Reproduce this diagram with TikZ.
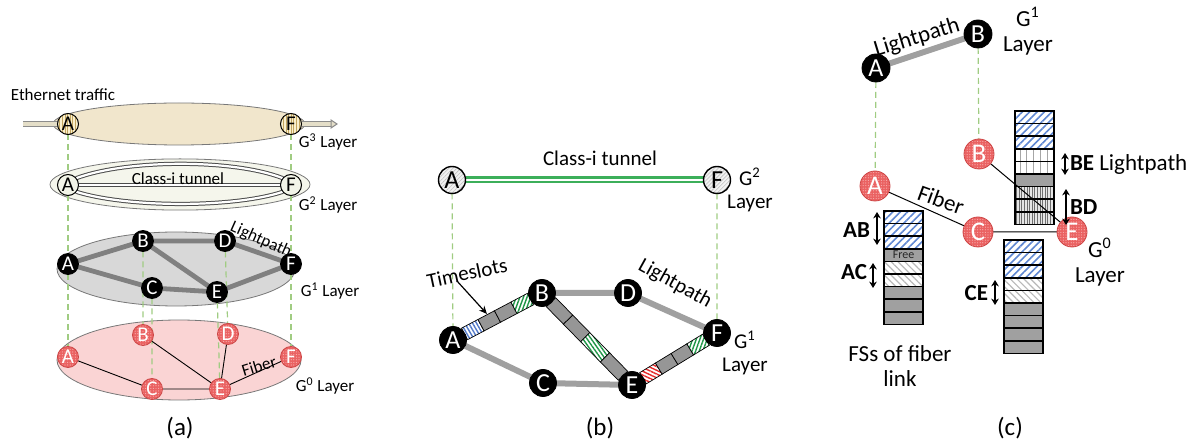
\documentclass[tikz,border=0pt]{standalone}
\usepackage{fontspec}
\setmainfont{Carlito}
\usetikzlibrary{calc,arrows.meta,patterns.meta}

\definecolor{ellG3}{RGB}{241,230,204}
\definecolor{ellG2}{RGB}{245,246,236}
\definecolor{ellG1}{RGB}{216,216,216}
\definecolor{ellG0}{RGB}{250,212,212}
\definecolor{ellline}{RGB}{120,120,120}
\definecolor{dashgreen}{RGB}{160,204,130}
\definecolor{lpgray}{RGB}{128,128,128}
\definecolor{lpgrayb}{RGB}{160,160,160}
\definecolor{rednode}{RGB}{234,98,98}
\definecolor{reddraw}{RGB}{205,70,70}
\definecolor{reddot}{RGB}{248,175,175}
\definecolor{g3fill}{RGB}{250,240,205}
\definecolor{g3stripe}{RGB}{195,165,95}
\definecolor{g2fill}{RGB}{242,244,232}
\definecolor{ethcore}{RGB}{228,222,200}
\definecolor{tunnelgreen}{RGB}{60,175,90}
\definecolor{slotgray}{RGB}{150,150,150}
\definecolor{slotblue}{RGB}{80,120,200}
\definecolor{slotgreen}{RGB}{30,150,70}
\definecolor{slotred}{RGB}{230,40,40}
\definecolor{fsblue}{RGB}{95,135,210}
\definecolor{fshatch}{RGB}{185,185,185}
\definecolor{fsgray}{RGB}{160,160,160}
\definecolor{fsstripe}{RGB}{110,110,110}

\pgfdeclarelayer{back}
\pgfdeclarelayer{mid}
\pgfsetlayers{back,mid,main}

% one timeslot of a lightpath bar between two nodes, from fraction #3 to #4
\newcommand\tslot[5]{%
  \path[#5] ($(#1)!#3!(#2)!3.25pt!90:(#2)$) -- ($(#1)!#4!(#2)!3.25pt!90:(#2)$)
    -- ($(#1)!#4!(#2)!3.25pt!-90:(#2)$) -- ($(#1)!#3!(#2)!3.25pt!-90:(#2)$) -- cycle;}

% a stack of frequency slots: left x, top y, list of cell styles
\newcommand\fscolumn[3]{%
  \foreach \st [count=\i from 0] in {#3}
    {\path[fscell,\st] (#1,{#2+12.6*\i}) rectangle ++(39,12.6);}}

\begin{document}
\begin{tikzpicture}[x=0.5pt,y=-0.5pt,
  every node/.style={inner sep=0pt,outer sep=0pt},
  txa/.style={font=\fontsize{8.5}{10}\selectfont},
  txb/.style={font=\fontsize{10.5}{11.8}\selectfont,align=center},
  txc/.style={font=\fontsize{11.5}{12.5}\selectfont,align=center},
  panel/.style={font=\fontsize{12.5}{15}\selectfont},
  ell/.style={draw=ellline,line width=0.4pt},
  vlink/.style={draw=dashgreen,line width=0.6pt,dash pattern=on 3pt off 2pt},
  nodea/.style={circle,minimum size=10.5pt,font=\fontsize{10.5}{11}\selectfont},
  nodeb/.style={circle,minimum size=13.5pt,font=\fontsize{13}{14}\selectfont},
  nodec/.style={circle,minimum size=14pt,font=\fontsize{13}{14}\selectfont},
  nodecr/.style={circle,minimum size=15pt,font=\fontsize{13.5}{14}\selectfont},
  g3node/.style={nodea,draw=black,line width=0.5pt,preaction={fill=g3fill},
    pattern={Lines[angle=90,distance=1.3pt,line width=0.4pt]},pattern color=g3stripe},
  g2node/.style={nodea,draw=black,line width=0.5pt,fill=g2fill},
  g2b/.style={nodeb,draw=black,line width=0.7pt,preaction={fill=black!5},
    pattern={Lines[angle=45,distance=1.4pt,line width=0.3pt]},pattern color=black!25},
  blk/.style={fill=black,draw=black,text=white},
  rednd/.style={draw=reddraw,line width=0.4pt,text=white,preaction={fill=rednode},
    pattern={Dots[distance=1.3pt,radius=0.3pt]},pattern color=reddot},
  eth/.style={draw=black!45,line width=0.5pt,double=ethcore,double distance=2pt},
  ethhead/.style={draw=black!45,line width=0.5pt,fill=ethcore},
  tunnel/.style={draw=black!70,line width=0.5pt,double=white,double distance=1.1pt},
  tunnelg/.style={draw=tunnelgreen,line width=1.1pt,double=white,double distance=1.3pt},
  lpa/.style={draw=lpgray,line width=2.4pt},
  lpb/.style={draw=lpgrayb,line width=3pt},
  fib/.style={draw=black,line width=0.45pt},
  slot/.style={draw=black,line width=0.35pt},
  sgray/.style={slot,fill=slotgray},
  sblue/.style={slot,preaction={fill=white},
    pattern={Lines[angle=-60,distance=1.7pt,line width=0.7pt]},pattern color=slotblue},
  sgreen/.style={slot,preaction={fill=white},
    pattern={Lines[angle=70,distance=1.7pt,line width=0.7pt]},pattern color=slotgreen},
  sgreenx/.style={slot,preaction={fill=white},
    pattern={Lines[angle=-55,distance=1.7pt,line width=0.7pt]},pattern color=slotgreen},
  sred/.style={slot,preaction={fill=white},
    pattern={Lines[angle=-25,distance=1.7pt,line width=0.7pt]},pattern color=slotred},
  fscell/.style={draw=black,line width=0.8pt},
  fblue/.style={preaction={fill=white},
    pattern={Lines[angle=45,distance=2.6pt,line width=0.8pt]},pattern color=fsblue},
  fhatch/.style={preaction={fill=white},
    pattern={Lines[angle=-45,distance=2.4pt,line width=0.6pt]},pattern color=fshatch},
  fgray/.style={fill=fsgray},
  fwhite/.style={preaction={fill=white},
    pattern={Lines[angle=90,distance=3.4pt,line width=0.35pt]},pattern color=black!35},
  fvert/.style={preaction={fill=black!10},
    pattern={Lines[angle=90,distance=1.3pt,line width=0.45pt]},pattern color=fsstripe},
  darr/.style={draw=black,line width=0.9pt,
    {Stealth[length=3.2pt,width=3.8pt]}-{Stealth[length=3.2pt,width=3.8pt]}},
  ptr/.style={draw=black,line width=0.6pt,-{Stealth[length=4pt,width=3.5pt]}}
]
\useasboundingbox (0,0) rectangle (1195,443);

% ================= (a) four stacked layers =================
\node[g3node] (a3A) at (68,124) {A};
\node[g3node] (a3F) at (291,124) {F};
\node[g2node] (a2A) at (68,185) {A};
\node[g2node] (a2F) at (291,185) {F};
\node[nodea,blk] (a1A) at (68,264) {A};
\node[nodea,blk] (a1B) at (143,241) {B};
\node[nodea,blk] (a1C) at (152,288) {C};
\node[nodea,blk] (a1D) at (225,241) {D};
\node[nodea,blk] (a1E) at (217,292) {E};
\node[nodea,blk] (a1F) at (291,264) {F};
\node[nodea,rednd] (a0A) at (68,357) {A};
\node[nodea,rednd] (a0B) at (143,335) {B};
\node[nodea,rednd] (a0C) at (152,389) {C};
\node[nodea,rednd] (a0D) at (228,334) {D};
\node[nodea,rednd] (a0E) at (220,389) {E};
\node[nodea,rednd] (a0F) at (291,357) {F};

\begin{pgfonlayer}{back}
  \path[ell,fill=ellG3] (179,124) ellipse [x radius=63pt,y radius=10.5pt];
  \path[ell,fill=ellG2] (180,184.5) ellipse [x radius=65pt,y radius=12.8pt];
  \path[ell,fill=ellG1] (176,269) ellipse [x radius=59.5pt,y radius=18.5pt];
  \path[ell,fill=ellG0] (179,360) ellipse [x radius=61pt,y radius=20pt];
\end{pgfonlayer}

\begin{pgfonlayer}{mid}
  \coordinate (ethin) at (23,124);
  \coordinate (ethend) at (331,124);
  \draw[eth] (ethin) -- (a3A.west);
  \draw[eth] (a3F.east) -- (ethend);
  \draw[ethhead] (ethend) ++(0,-4) -- ++(6,4) -- ++(-6,4) -- cycle;
  \draw[tunnel] (a2A.40) .. controls (128,159) and (234,159) .. (a2F.140);
  \draw[tunnel] (a2A) -- (a2F);
  \draw[tunnel] (a2A.-40) .. controls (128,208) and (234,208) .. (a2F.-140);
  \draw[vlink] (a3A) -- (a2A) (a2A) -- (a1A) (a1A) -- (a0A);
  \draw[vlink] (a3F) -- (a2F) (a2F) -- (a1F) (a1F) -- (a0F);
  \draw[vlink] (a1B) -- (a0B) (a1C) -- (a0C) (a1D) -- (a0D) (a1E) -- (a0E);
  \draw[lpa] (a1A) -- (a1B) (a1B) -- (a1D) (a1D) -- (a1F) (a1A) -- (a1C)
             (a1C) -- (a1E) (a1E) -- (a1F) (a1B) -- (a1E);
  \draw[fib] (a0A) -- (a0C) (a0C) -- (a0E) (a0B) -- (a0E) (a0D) -- (a0E) (a0E) -- (a0F);
\end{pgfonlayer}

\node[txa] (ethlbl) at (63,95) {Ethernet traffic};
\node[txa] (g3lbl) at (328,142) {G\textsuperscript{3} Layer};
\node[txa] (tunlbla) at (178,179) {Class-i tunnel};
\node[txa] (g2lbl) at (328,205) {G\textsuperscript{2} Layer};
\node[txa,rotate=-24] (lplbla) at (261,240) {Lightpath};
\node[txa] (g1lbl) at (330,291) {G\textsuperscript{1} Layer};
\node[txa,rotate=17] (fiblbla) at (259,366) {Fiber};
\node[txa] (g0lbl) at (325,386) {G\textsuperscript{0} Layer};
\node[panel] (capa) at (180,428) {(a)};

% ================= (b) tunnel over timeslotted lightpaths =================
\node[g2b] (bA2) at (452,180) {A};
\node[g2b] (bF2) at (717,180) {F};
\node[nodeb,blk] (bA) at (453,340) {A};
\node[nodeb,blk] (bB) at (542,293) {B};
\node[nodeb,blk] (bD) at (628,293) {D};
\node[nodeb,blk] (bF) at (717,333) {F};
\node[nodeb,blk] (bC) at (543,383) {C};
\node[nodeb,blk] (bE) at (632,385) {E};

\begin{pgfonlayer}{mid}
  \draw[tunnelg] (bA2) -- (bF2);
  \draw[vlink] (bA2) -- (bA) (bF2) -- (bF);
  \draw[lpb] (bB) -- (bD) (bD) -- (bF) (bA) -- (bC) (bC) -- (bE);
  \tslot{bA}{bB}{0.13}{0.315}{sblue}
  \tslot{bA}{bB}{0.315}{0.5}{sgray}
  \tslot{bA}{bB}{0.5}{0.685}{sgray}
  \tslot{bA}{bB}{0.685}{0.87}{sgreen}
  \tslot{bB}{bE}{0.10}{0.29}{sgray}
  \tslot{bB}{bE}{0.29}{0.48}{sgray}
  \tslot{bB}{bE}{0.48}{0.70}{sgreenx}
  \tslot{bB}{bE}{0.70}{0.90}{sgray}
  \tslot{bE}{bF}{0.13}{0.315}{sred}
  \tslot{bE}{bF}{0.315}{0.5}{sgray}
  \tslot{bE}{bF}{0.5}{0.685}{sgray}
  \tslot{bE}{bF}{0.685}{0.87}{sgreen}
\end{pgfonlayer}

\node[txb] (tunlblb) at (600,158) {Class-i tunnel};
\node[txb] (g2lblb) at (750,190) {G\textsuperscript{2}\\Layer};
\node[txb,rotate=12] (tslbl) at (467,273) {Timeslots};
\coordinate (tsfrom) at (457,281);
\coordinate (tstip) at (487,314);
\draw[ptr] (tsfrom) -- (tstip);
\node[txb,rotate=-29] (lplblb) at (675,284) {Lightpath};
\node[txb] (g1lblb) at (745,353) {G\textsuperscript{1}\\Layer};
\node[panel] (capb) at (600,428) {(b)};

% ================= (c) frequency slots of the fiber links =================
\node[nodec,blk] (cA1) at (876,68) {A};
\node[nodec,blk] (cB1) at (978,34) {B};
\node[nodecr,rednd] (cA) at (875,186) {A};
\node[nodecr,rednd] (cB) at (979,154) {B};
\node[nodecr,rednd] (cC) at (978,232) {C};
\node[nodecr,rednd] (cE) at (1072,232) {E};

\begin{pgfonlayer}{back}
  \fscolumn{884}{211}{fblue,fblue,fblue,fgray,fhatch,fhatch,fgray,fgray,fgray}
  \fscolumn{1004}{240}{fblue,fblue,fblue,fhatch,fhatch,fgray,fgray,fgray,fgray}
  \fscolumn{1015}{111}{fblue,fblue,fblue,fwhite,fwhite,fgray,fvert,fvert,fvert}
\end{pgfonlayer}

\begin{pgfonlayer}{mid}
  \draw[lpb] (cA1) -- (cB1);
  \draw[vlink] (cA1) -- (cA) (cB1) -- (cB);
  \draw[fib,line width=0.5pt] (cA) -- (cC) (cC) -- (cE) (cB) -- (cE);
\end{pgfonlayer}

\node[font=\fontsize{6}{7}\selectfont,text=black!85] (freelbl) at (903.5,255) {Free};

\coordinate (abT) at (877,212);  \coordinate (abB) at (877,245);
\coordinate (acT) at (873,263);  \coordinate (acB) at (873,288);
\coordinate (ceT) at (995,280);  \coordinate (ceB) at (995,305);
\coordinate (beT) at (1065,153); \coordinate (beB) at (1065,175);
\coordinate (bdT) at (1066,189); \coordinate (bdB) at (1066,225);
\draw[darr] (abT) -- (abB);
\draw[darr] (acT) -- (acB);
\draw[darr] (ceT) -- (ceB);
\draw[darr] (beT) -- (beB);
\draw[darr] (bdT) -- (bdB);

\node[txc,rotate=17] (lplblc) at (917,38) {Lightpath};
\node[txc] (g1lblc) at (1028,31) {G\textsuperscript{1}\\Layer};
\node[txc,rotate=-20] (fiblblc) at (941,200) {Fiber};
\node[txc] (g0lblc) at (1100,262) {G\textsuperscript{0}\\Layer};
\node[txc,anchor=east] (ablbl) at (870,230) {\bfseries AB};
\node[txc,anchor=east] (aclbl) at (867,272) {\bfseries AC};
\node[txc,anchor=east] (celbl) at (988,293) {\bfseries CE};
\node[txc,anchor=west] (belbl) at (1070,164) {\bfseries BE\mdseries\ Lightpath};
\node[txc,anchor=west] (bdlbl) at (1070,207) {\bfseries BD};
\node[txc] (fslbl) at (900,366) {FSs of fiber\\link};
\node[panel] (capc) at (1010,428) {(c)};
\end{tikzpicture}
\end{document}
